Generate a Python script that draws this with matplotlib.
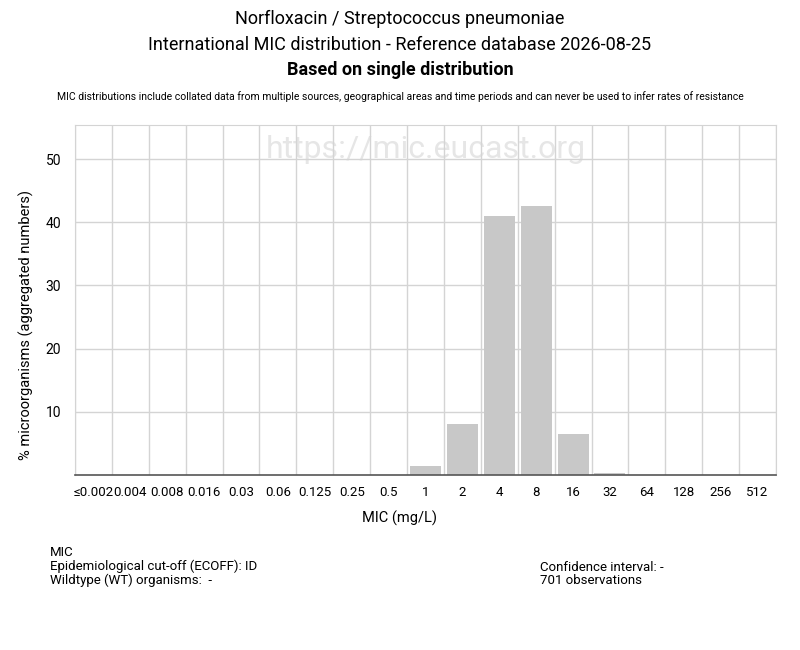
import matplotlib
matplotlib.use("Agg")
import matplotlib.pyplot as plt
import numpy as np

plt.rcParams['font.family'] = ['Roboto', 'DejaVu Sans']

# Datos
mic_labels = ["≤0.002", "0.004", "0.008", "0.016", "0.03", "0.06", "0.125", "0.25", "0.5",
              "1", "2", "4", "8", "16", "32", "64", "128", "256", "512"]
percent = [0, 0, 0, 0, 0, 0, 0, 0, 0,
           1.43, 8.13, 40.94, 42.65, 6.56, 0.29, 0, 0, 0, 0]
y_ticks = [10, 20, 30, 40, 50]

fig = plt.figure(figsize=(8, 6.5), dpi=100)
ax = fig.add_axes([75 / 800, 1 - 475 / 650, 701 / 800, 350 / 650])

x = np.arange(len(mic_labels))
ax.bar(x, percent, width=0.84, color="#c8c8c8", zorder=2)

ax.set_xlim(-0.5, len(mic_labels) - 0.5)
ax.set_ylim(0, 55.4)
ax.set_xticks(x)
ax.set_xticklabels(mic_labels, fontsize=9.5)
ax.set_yticks(y_ticks)
ax.set_yticklabels([str(v) for v in y_ticks], fontsize=10)
ax.set_xticks(np.arange(len(mic_labels) + 1) - 0.5, minor=True)
ax.tick_params(axis="x", which="both", length=0, pad=8)
ax.tick_params(axis="y", which="both", length=0, pad=10)
ax.grid(axis="x", which="minor", color="#d4d4d4", linewidth=1, zorder=0)
ax.grid(axis="y", which="major", color="#d4d4d4", linewidth=1, zorder=0)
for side in ["left", "top", "right"]:
    ax.spines[side].set_color("#d4d4d4")
ax.spines["bottom"].set_color("#555555")
ax.spines["bottom"].set_linewidth(1.2)

# Etiquetas de los ejes
fig.text(400 / 800, 1 - 518 / 650, "MIC (mg/L)", ha="center", va="center", fontsize=10.5)
fig.text(26 / 800, 1 - 325 / 650, "% microorganisms (aggregated numbers)", ha="center", va="center",
         rotation=90, fontsize=10.5)

# Marca de agua
ax.text(0.5, 0.93, "https://mic.eucast.org", transform=ax.transAxes, ha="center", va="center",
        fontsize=23, color="#e6e6e6", zorder=1)

# Títulos
fig.text(0.5, 1 - 19 / 650, "Norfloxacin / Streptococcus pneumoniae", ha="center", va="center", fontsize=13)
fig.text(0.5, 1 - 45 / 650, "International MIC distribution - Reference database 2026-08-25",
         ha="center", va="center", fontsize=13)
fig.text(0.5, 1 - 70 / 650, "Based on single distribution", ha="center", va="center",
         fontsize=13, fontweight="bold")
fig.text(0.5, 1 - 97 / 650, "MIC distributions include collated data from multiple sources, geographical areas "
         "and time periods and can never be used to infer rates of resistance",
         ha="center", va="center", fontsize=7.5)

# Texto inferior
fig.text(50 / 800, 1 - 546 / 650, "MIC\nEpidemiological cut-off (ECOFF): ID\nWildtype (WT) organisms:  -",
         ha="left", va="top", fontsize=9.5, linespacing=1.05)
fig.text(540 / 800, 1 - 561 / 650, "Confidence interval: -\n701 observations",
         ha="left", va="top", fontsize=9.5, linespacing=1.05)

fig.savefig("out.png", dpi=100)
